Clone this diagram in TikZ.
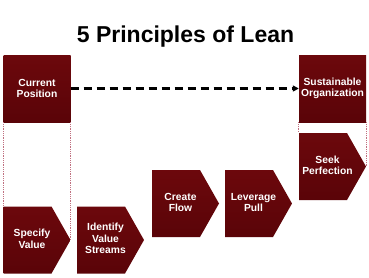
\documentclass[tikz,border=0pt]{standalone}
\usepackage{fontspec}
\setmainfont{Liberation Sans}
\usetikzlibrary{calc,arrows.meta}
\definecolor{lrtop}{HTML}{6C080C}
\definecolor{lrmid}{HTML}{8E1A1E}
\definecolor{lrbot}{HTML}{5A0408}
\definecolor{dotc}{HTML}{C07080}
\tikzset{
  x=1pt,y=1pt,
  redshade/.style={top color=lrtop, middle color=lrmid, bottom color=lrbot, draw=none},
  labeltext/.style={text=white, font=\bfseries\fontsize{10.3}{11.5}\selectfont, align=center, inner sep=0pt},
  posbox/.style={redshade, labeltext, rectangle, minimum width=67pt, minimum height=67pt},
  stepshape/.style={labeltext, rectangle, minimum width=67pt, minimum height=67pt,
    path picture={
      \shade[redshade]
        (path picture bounding box.north west)
        -- ($(path picture bounding box.north west)+(48,0)$)
        -- (path picture bounding box.east)
        -- ($(path picture bounding box.south west)+(48,0)$)
        -- (path picture bounding box.south west) -- cycle;
    }},
  guide/.style={dotc, line width=0.9pt, dash pattern=on 0.9pt off 0.9pt},
  goal/.style={line width=2.3pt, dash pattern=on 8pt off 5pt, -{Triangle[length=6pt,width=6pt]}}
}
\newcommand{\steplbl}[1]{\begin{tabular}{@{}c@{}}#1\end{tabular}\hspace*{10pt}}
\begin{document}
\begin{tikzpicture}
\useasboundingbox (0,0) rectangle (369,277);
\node[font=\bfseries\fontsize{23}{27}\selectfont, anchor=base] (title) at (185.5,235) {5 Principles of Lean};
\node[posbox] (cur) at (37,188.5) {Current\\Position};
\node[posbox] (sus) at (332.5,188.5) {Sustainable\\Organization};
\node[stepshape] (spec) at (37,37) {\steplbl{Specify\\Value}};
\node[stepshape] (ident) at (110.5,37) {\steplbl{Identify\\Value\\Streams}};
\node[stepshape] (flow) at (185.5,73.5) {\steplbl{Create\\Flow}};
\node[stepshape] (pull) at (258.5,73.5) {\steplbl{Leverage\\Pull}};
\node[stepshape] (seek) at (332.5,110.5) {\steplbl{Seek\\Perfection}};
\draw[guide] (cur.south west) -- (spec.north west);
\draw[guide] (cur.south east) -- (spec.east);
\draw[guide] (sus.south west) -- (seek.north west);
\draw[guide] (sus.south east) -- (seek.east);
\draw[goal] (cur.east) -- (sus.west);
\end{tikzpicture}
\end{document}
